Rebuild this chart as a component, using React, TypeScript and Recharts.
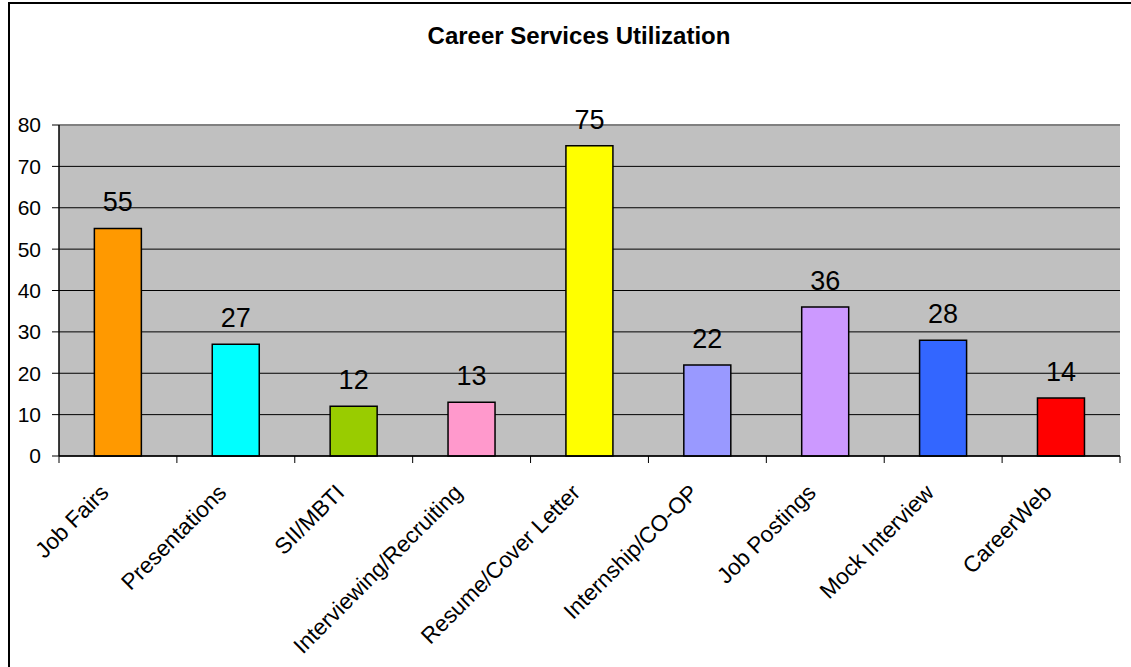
import React from "react";
import { BarChart, Bar, XAxis, YAxis, CartesianGrid, Cell, LabelList, ReferenceLine } from "recharts";

const categories = [
  "Job Fairs",
  "Presentations",
  "SII/MBTI",
  "Interviewing/Recruiting",
  "Resume/Cover Letter",
  "Internship/CO-OP",
  "Job Postings",
  "Mock Interview",
  "CareerWeb",
];
const values = [55, 27, 12, 13, 75, 22, 36, 28, 14];
const colors = ["#FF9900", "#00FFFF", "#99CC00", "#FF99CC", "#FFFF00", "#9999FF", "#CC99FF", "#3366FF", "#FF0000"];
const yTicks = [0, 10, 20, 30, 40, 50, 60, 70, 80];

const data = categories.map((name, i) => ({ name, value: values[i] }));

const W = 1131;
const H = 667;
const PLOT_LEFT = 59;
const PLOT_RIGHT = 1120;
const FONT = "'Liberation Sans', Arial, sans-serif";

const XTick = (props: any) => {
  const { x, y, payload, index } = props;
  const step = (PLOT_RIGHT - PLOT_LEFT) / categories.length;
  const left = x - step / 2;
  const ax = x - 8;
  const ay = y + 38;
  return (
    <g>
      <line x1={left} y1={y} x2={left} y2={y + 7} stroke="#000" strokeWidth={1} />
      {index === categories.length - 1 && (
        <line x1={left + step} y1={y} x2={left + step} y2={y + 7} stroke="#000" strokeWidth={1} />
      )}
      <text
        x={ax}
        y={ay}
        textAnchor="end"
        transform={`rotate(-45, ${ax}, ${ay})`}
        fontSize={22.5}
        fontFamily={FONT}
        fill="#000"
      >
        {payload.value}
      </text>
    </g>
  );
};

export default function App() {
  return (
    <div style={{ position: "absolute", left: 0, top: 0, width: W, height: H, overflow: "hidden", background: "#fff" }}>
      <div
        style={{
          position: "absolute",
          left: 8,
          top: 2,
          width: W,
          height: H,
          borderLeft: "2px solid #000",
          borderTop: "2px solid #000",
        }}
      />
      <div
        style={{
          position: "absolute",
          left: 0,
          top: 24,
          width: 1158,
          textAlign: "center",
          fontFamily: FONT,
          fontWeight: "bold",
          fontSize: 24,
          lineHeight: "24px",
          color: "#000",
        }}
      >
        Career Services Utilization
      </div>
      <div style={{ position: "absolute", left: 0, top: 0 }}>
        <BarChart
          width={W}
          height={H}
          data={data}
          margin={{ top: 125, right: 11, bottom: 11, left: 0 }}
          barCategoryGap="30%"
        >
          <CartesianGrid fill="#C0C0C0" vertical={false} stroke="#000" strokeWidth={1} />
          <XAxis
            dataKey="name"
            height={200}
            interval={0}
            tickLine={false}
            tickSize={0}
            tickMargin={0}
            axisLine={{ stroke: "#000", strokeWidth: 1.5 }}
            tick={<XTick />}
          />
          <YAxis
            width={59}
            domain={[0, 80]}
            ticks={yTicks}
            interval={0}
            tickSize={7}
            tickMargin={11}
            axisLine={{ stroke: "#000", strokeWidth: 1.5 }}
            tickLine={{ stroke: "#000" }}
            tick={{ fontSize: 21, fill: "#000", fontFamily: FONT }}
          />
          <YAxis
            yAxisId="r"
            orientation="right"
            width={0}
            domain={[0, 80]}
            tick={false}
            tickLine={false}
            axisLine={{ stroke: "#808080", strokeWidth: 2 }}
          />
          <ReferenceLine y={80} stroke="#808080" strokeWidth={2} />
          <Bar dataKey="value" stroke="#000" strokeWidth={1.5} isAnimationActive={false}>
            {data.map((d, i) => (
              <Cell key={d.name} fill={colors[i]} />
            ))}
            <LabelList dataKey="value" position="top" offset={17} fontSize={27} fill="#000" fontFamily={FONT} />
          </Bar>
        </BarChart>
      </div>
    </div>
  );
}
